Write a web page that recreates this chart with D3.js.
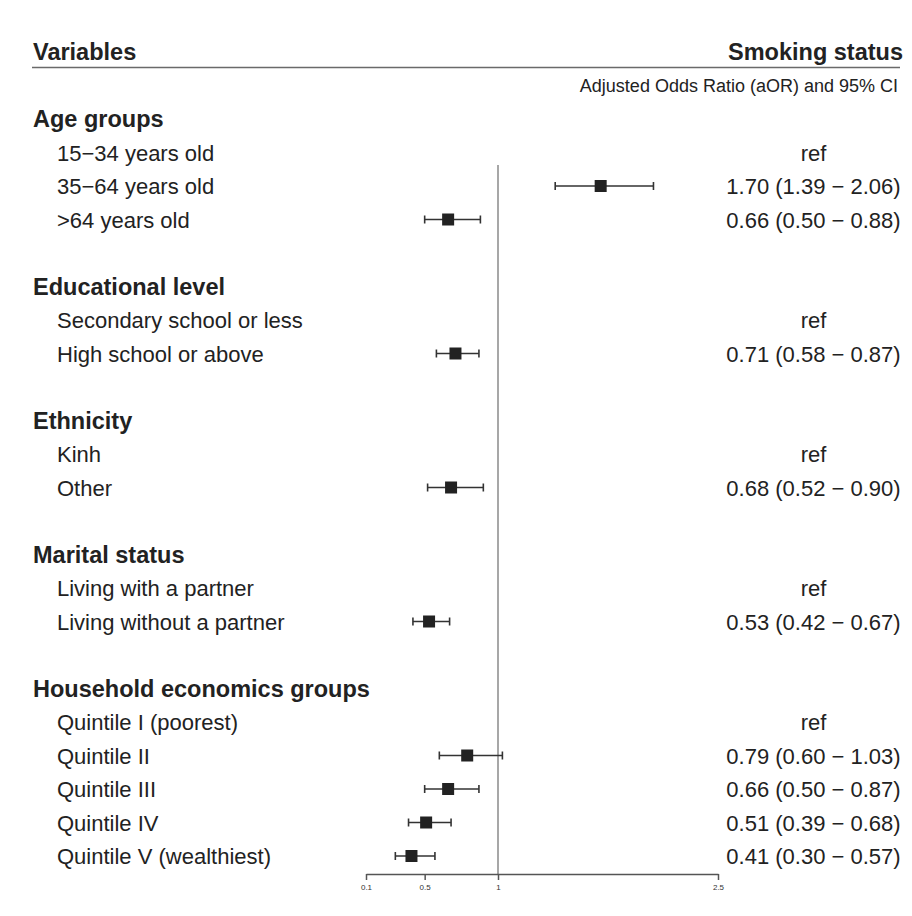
<!DOCTYPE html>
<html>
<head>
<meta charset="utf-8">
<script src="https://cdn.jsdelivr.net/npm/d3@7"></script>
<style>
  html, body { margin: 0; padding: 0; background: #ffffff; }
  svg { display: block; font-family: "Liberation Sans", Arial, Helvetica, sans-serif; }
</style>
</head>
<body>
<svg id="chart" width="912" height="916"></svg>
<script>
// Variable groups and their levels
const groups = ["Age groups", "Educational level", "Ethnicity", "Marital status", "Household economics groups"];
const levels = [
  "15−34 years old", "35−64 years old", ">64 years old",
  "Secondary school or less", "High school or above",
  "Kinh", "Other",
  "Living with a partner", "Living without a partner",
  "Quintile I (poorest)", "Quintile II", "Quintile III", "Quintile IV", "Quintile V (wealthiest)"
];
const levelGroup = [0, 0, 0, 1, 1, 2, 2, 3, 3, 4, 4, 4, 4, 4];

// Adjusted odds ratios with 95% confidence limits (null = reference level)
const aor    = [null, 1.70, 0.66, null, 0.71, null, 0.68, null, 0.53, null, 0.79, 0.66, 0.51, 0.41];
const ciLow  = [null, 1.39, 0.50, null, 0.58, null, 0.52, null, 0.42, null, 0.60, 0.50, 0.39, 0.30];
const ciHigh = [null, 2.06, 0.88, null, 0.87, null, 0.90, null, 0.67, null, 1.03, 0.87, 0.68, 0.57];

const xTicks = [0.1, 0.5, 1, 2.5];
const nullValue = 1;

// Build the table rows: group header, its levels, then a spacer row
const rows = [];
groups.forEach((g, gi) => {
  rows.push({ type: "header", label: g });
  levels.forEach((l, li) => {
    if (levelGroup[li] === gi) {
      rows.push({ type: "level", label: l, est: aor[li], lo: ciLow[li], hi: ciHigh[li] });
    }
  });
  if (gi < groups.length - 1) rows.push({ type: "blank" });
});
rows.forEach((r, i) => r.index = i);

const svg = d3.select("#chart");
const textColor = "#222";

const y = d3.scaleLinear().domain([0, rows.length - 1]).range([119, 856]);
const x = d3.scaleLinear().domain([0.1, 2.5]).range([366, 718]);

const leftX = 33, indentX = 57, rightX = 900, valueCenterX = 813.5;
const itemSize = 22, headSize = 23.5;

// Column headers
svg.append("text").attr("x", leftX).attr("y", 60)
  .attr("font-size", headSize).attr("font-weight", "bold").attr("fill", textColor)
  .text("Variables");
svg.append("text").attr("x", 903).attr("y", 60).attr("text-anchor", "end")
  .attr("font-size", headSize).attr("font-weight", "bold").attr("fill", textColor)
  .text("Smoking status");
svg.append("line").attr("x1", 32).attr("x2", 900).attr("y1", 67.5).attr("y2", 67.5)
  .attr("stroke", "#6a6a6a").attr("stroke-width", 1.5);
svg.append("text").attr("x", 898).attr("y", 92).attr("text-anchor", "end")
  .attr("font-size", 18).attr("fill", textColor)
  .text("Adjusted Odds Ratio (aOR) and 95% CI");

// Left-hand labels
svg.append("g").selectAll("text")
  .data(rows.filter(r => r.type !== "blank"))
  .join("text")
  .attr("x", d => d.type === "header" ? leftX : indentX)
  .attr("y", d => y(d.index) + 8)
  .attr("font-size", d => d.type === "header" ? headSize : itemSize)
  .attr("font-weight", d => d.type === "header" ? "bold" : "normal")
  .attr("fill", textColor)
  .text(d => d.label);

// Right-hand estimate text
const fmt = d3.format(".2f");
svg.append("g").selectAll("text")
  .data(rows.filter(r => r.type === "level"))
  .join("text")
  .attr("x", valueCenterX)
  .attr("y", d => y(d.index) + 8)
  .attr("text-anchor", "middle")
  .attr("font-size", itemSize)
  .attr("fill", textColor)
  .text(d => d.est == null ? "ref" : `${fmt(d.est)} (${fmt(d.lo)} − ${fmt(d.hi)})`);

// Line of no effect
svg.append("line")
  .attr("x1", x(nullValue)).attr("x2", x(nullValue))
  .attr("y1", y(1) + 12.5).attr("y2", 874)
  .attr("stroke", "#8a8a8a").attr("stroke-width", 1.5);

// Confidence intervals and point estimates
const est = rows.filter(r => r.type === "level" && r.est != null);
const marks = svg.append("g");
const capH = 4;
marks.selectAll("line.ci").data(est).join("line").attr("class", "ci")
  .attr("x1", d => x(d.lo)).attr("x2", d => x(d.hi))
  .attr("y1", d => y(d.index)).attr("y2", d => y(d.index))
  .attr("stroke", "#333").attr("stroke-width", 1.6);
marks.selectAll("line.capl").data(est).join("line").attr("class", "capl")
  .attr("x1", d => x(d.lo)).attr("x2", d => x(d.lo))
  .attr("y1", d => y(d.index) - capH).attr("y2", d => y(d.index) + capH)
  .attr("stroke", "#333").attr("stroke-width", 1.6);
marks.selectAll("line.caph").data(est).join("line").attr("class", "caph")
  .attr("x1", d => x(d.hi)).attr("x2", d => x(d.hi))
  .attr("y1", d => y(d.index) - capH).attr("y2", d => y(d.index) + capH)
  .attr("stroke", "#333").attr("stroke-width", 1.6);
const sq = 12;
marks.selectAll("rect").data(est).join("rect")
  .attr("x", d => x(d.est) - sq / 2).attr("y", d => y(d.index) - sq / 2)
  .attr("width", sq).attr("height", sq)
  .attr("fill", "#222");

// X axis
const axis = svg.append("g").attr("transform", "translate(0,874)")
  .call(d3.axisBottom(x).tickValues(xTicks).tickFormat(d => String(d)).tickSize(6).tickSizeOuter(0));
axis.select(".domain").attr("stroke", "#555").attr("stroke-width", 1.5);
axis.selectAll(".tick line").attr("stroke", "#555").attr("stroke-width", 1.5);
axis.selectAll(".tick text").attr("font-size", 8).attr("fill", "#333")
  .attr("font-family", "\"Liberation Sans\", Arial, sans-serif").attr("dy", "0.9em");
</script>
</body>
</html>
